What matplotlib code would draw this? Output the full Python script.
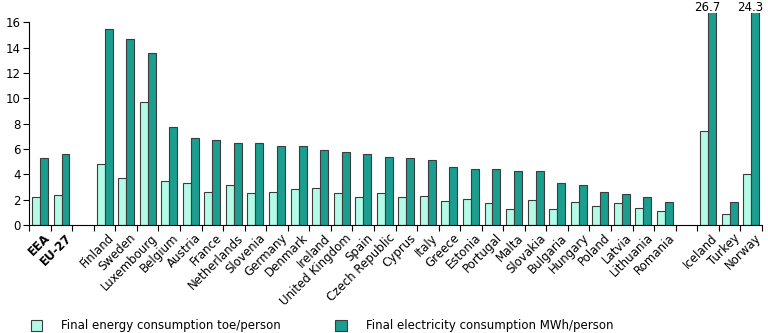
import numpy as np
import matplotlib.pyplot as plt

# Final energy and electricity consumption per person, by country
countries = ['EEA', 'EU-27', '',
             'Finland', 'Sweden', 'Luxembourg', 'Belgium', 'Austria', 'France',
             'Netherlands', 'Slovenia', 'Germany', 'Denmark', 'Ireland',
             'United Kingdom', 'Spain', 'Czech Republic', 'Cyprus', 'Italy',
             'Greece', 'Estonia', 'Portugal', 'Malta', 'Slovakia', 'Bulgaria',
             'Hungary', 'Poland', 'Latvia', 'Lithuania', 'Romania', '',
             'Iceland', 'Turkey', 'Norway']

energy_toe = [2.2, 2.4, np.nan,
              4.85, 3.75, 9.7, 3.5, 3.35, 2.6,
              3.2, 2.5, 2.65, 2.85, 2.95,
              2.55, 2.2, 2.55, 2.2, 2.3,
              1.9, 2.05, 1.75, 1.3, 2.0, 1.3,
              1.85, 1.5, 1.75, 1.35, 1.1, np.nan,
              7.4, 0.85, 4.0]

electricity_mwh = [5.3, 5.6, np.nan,
                   15.45, 14.65, 13.55, 7.7, 6.9, 6.75,
                   6.45, 6.45, 6.25, 6.2, 5.95,
                   5.75, 5.6, 5.4, 5.3, 5.15,
                   4.6, 4.45, 4.45, 4.3, 4.3, 3.3,
                   3.15, 2.65, 2.45, 2.25, 1.8, np.nan,
                   26.7, 1.8, 24.3]

light = '#b3fbe7'
dark = '#1b9e90'
edge = '#3c3c3c'
fs = 8.5

fig = plt.figure(figsize=(7.68, 3.33), dpi=100)
ax = fig.add_axes([0.038, 0.324, 0.954, 0.636])

x = np.arange(len(countries))
w = 0.37
ax.bar(x - w / 2, energy_toe, w, color=light, edgecolor=edge, linewidth=0.8,
       label='Final energy consumption toe/person')
ax.bar(x + w / 2, electricity_mwh, w, color=dark, edgecolor=edge, linewidth=0.8,
       label='Final electricity consumption MWh/person')

ymax = 16.7
ax.set_ylim(0, ymax)
ax.set_xlim(-0.5, len(countries) - 0.5)
ax.set_yticks(range(0, 17, 2))
ax.tick_params(axis='y', labelsize=fs, length=4, width=0.8, pad=2)

# bars taller than the axis get their value written on top
for xi, v in zip(x, electricity_mwh):
    if v > ymax:
        ax.text(xi + w / 2 - 0.22, ymax - 0.05, f'{v:.1f}', ha='center',
                va='bottom', fontsize=fs, clip_on=False)

# ticks between categories, labels at the centres
ax.set_xticks(np.arange(len(countries) + 1) - 0.5)
ax.set_xticklabels([])
ax.tick_params(axis='x', length=4, width=0.8)
for xi, name in zip(x, countries):
    ax.text(xi + 0.15, -0.5, name, rotation=45, ha='right', va='top',
            rotation_mode='anchor', fontsize=fs,
            fontweight='bold' if name in ('EEA', 'EU-27') else 'normal')

for s in ('top', 'right'):
    ax.spines[s].set_visible(False)
ax.spines['left'].set_bounds(0, 16)
for s in ('left', 'bottom'):
    ax.spines[s].set_linewidth(0.8)

fig.legend(loc='lower left', bbox_to_anchor=(0.026, -0.03), ncol=2,
           frameon=False, fontsize=fs, handlelength=1, handleheight=1,
           handletextpad=1.6, columnspacing=4.6)

fig.savefig('out.png', dpi=100)
